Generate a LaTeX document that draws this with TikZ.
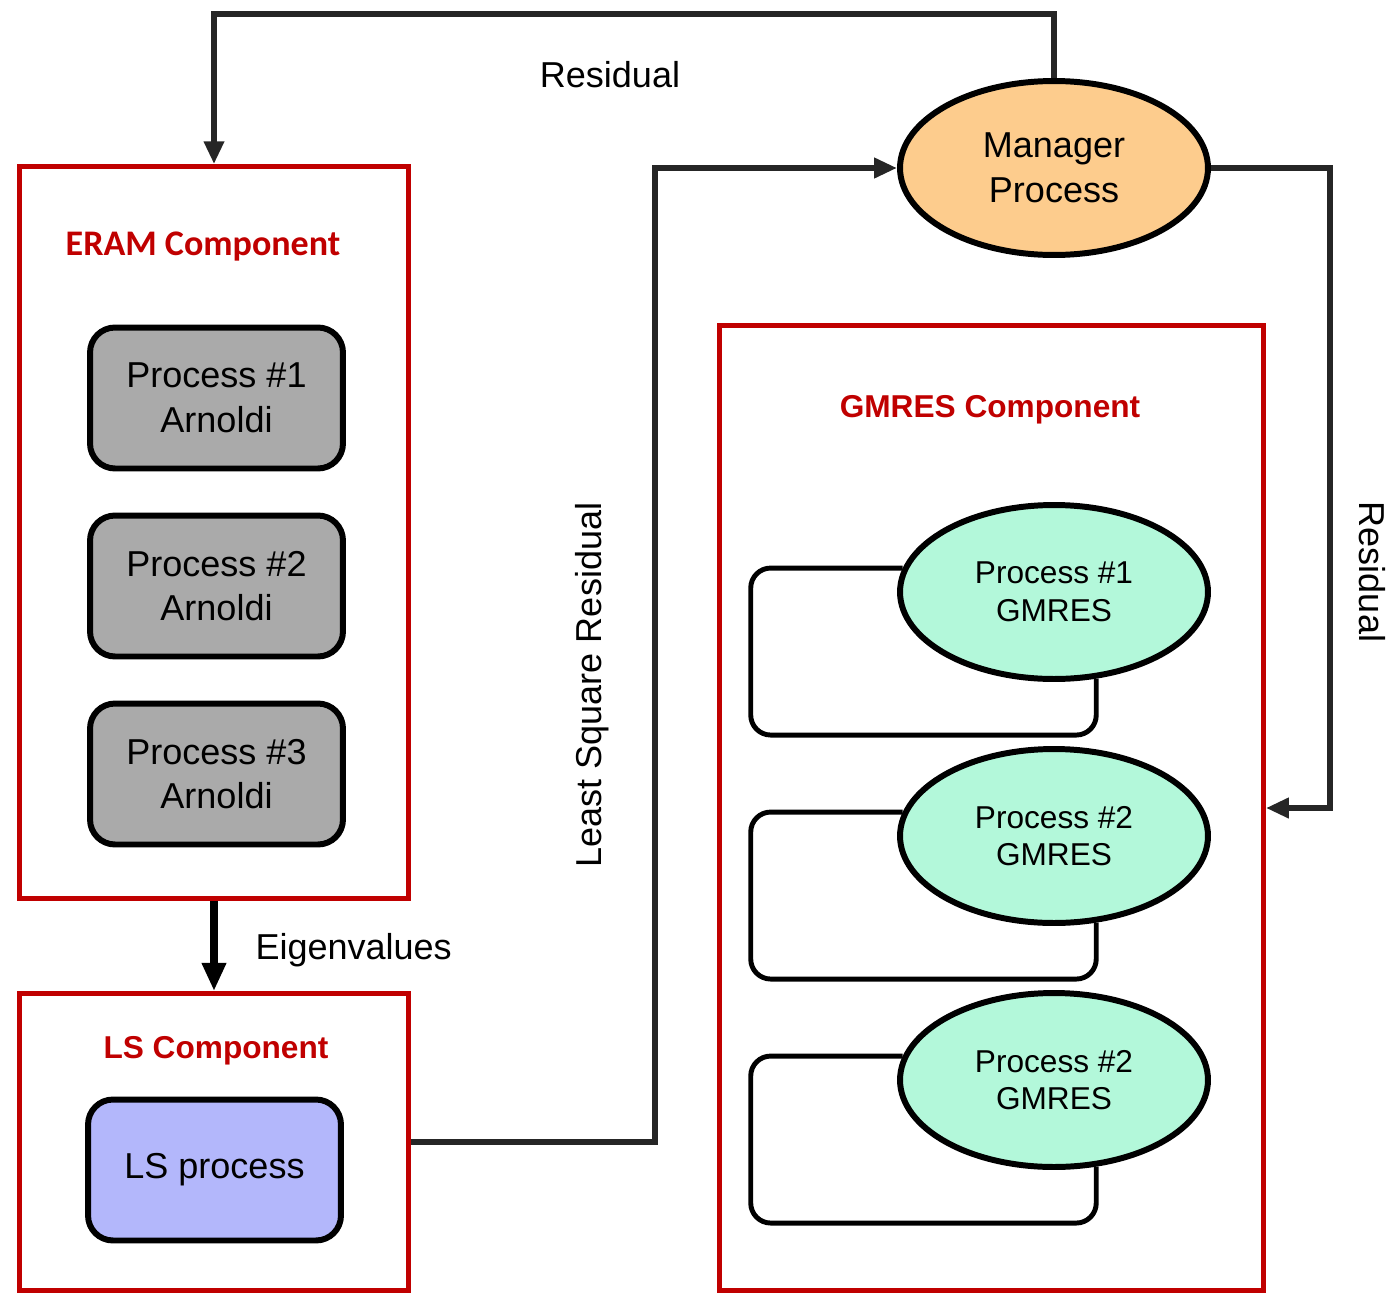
\documentclass[tikz,border=0pt]{standalone}
\usepackage{fontspec}
\setmainfont{Liberation Sans}
\newfontfamily\calfont{Carlito}
\usepackage{tikz}
\usetikzlibrary{shapes.geometric,arrows.meta,positioning}
\definecolor{compred}{HTML}{C00000}
\definecolor{flowgray}{HTML}{262626}
\definecolor{arngray}{HTML}{AAAAAA}
\definecolor{mgrorange}{HTML}{FDCC8D}
\definecolor{gmmint}{HTML}{B3F8DA}
\definecolor{lslav}{HTML}{B3B7FB}

\begin{document}
\begin{tikzpicture}
      [x=0.02cm,y=-0.02cm,
       comp box/.style={rectangle,draw=compred,line width=2.8pt,inner sep=0pt},
       comp title/.style={text=compred,font=\bfseries\fontsize{18}{21}\selectfont,inner sep=0pt},
       proc box/.style={rectangle,rounded corners=0.5cm,draw=black,line width=3.4pt,
         minimum width=5.06cm,minimum height=2.82cm,align=center,
         font=\fontsize{20.5}{25.5}\selectfont},
       proc ell/.style={ellipse,draw=black,line width=3.4pt,inner sep=0pt,
         minimum width=6.16cm,minimum height=3.48cm,align=center},
       flow/.style={draw=flowgray,line width=3.4pt,-{Triangle[length=13pt,width=11pt]}},
       loop line/.style={draw=black,line width=2.8pt,rounded corners=0.4cm},
       lbl/.style={font=\fontsize{20.5}{25}\selectfont,inner sep=0pt}]
        \useasboundingbox (0,0) rectangle (1400,1312);

        \node[comp box,minimum width=7.78cm,minimum height=14.64cm] (eram) at (214,532.5) {};
        \node[comp title,font=\calfont\bfseries\fontsize{20.5}{24}\selectfont] (eramlbl) at (203,247) {ERAM Component};
        \node[proc box,fill=arngray] (a1) at (216.5,398) {Process \#1\\Arnoldi};
        \node[proc box,fill=arngray] (a2) at (216.5,586) {Process \#2\\Arnoldi};
        \node[proc box,fill=arngray] (a3) at (216.5,774) {Process \#3\\Arnoldi};

        \node[comp box,minimum width=7.78cm,minimum height=5.94cm] (ls) at (214,1142) {};
        \node[comp title] (lslbl) at (216,1051) {LS Component};
        \node[proc box,fill=lslav] (lsp) at (214.5,1170) {LS process};

        \node[proc ell,fill=mgrorange,font=\fontsize{20.5}{25.5}\selectfont] (mgr) at (1054,168) {Manager\\Process};

        \node[comp box,minimum width=10.88cm,minimum height=19.3cm] (gm) at (991.5,808) {};
        \node[comp title] (gmlbl) at (990,410) {GMRES Component};
        \node[proc ell,fill=gmmint,font=\fontsize{18}{21.5}\selectfont] (g1) at (1054,592) {Process \#1\\GMRES};
        \node[proc ell,fill=gmmint,font=\fontsize{18}{21.5}\selectfont] (g2) at (1054,836) {Process \#2\\GMRES};
        \node[proc ell,fill=gmmint,font=\fontsize{18}{21.5}\selectfont] (g3) at (1054,1080) {Process \#2\\GMRES};

        \foreach \g in {g1,g2,g3}
          \draw[loop line] (\g.171) -- ++(-152,0) -- ++(0,167) -| (\g.-64);

        \draw[flow] (mgr.north) -- ++(0,-64) -| (eram.north);
        \draw[flow] (ls.east) -- ++(244,0) |- (mgr.west);
        \draw[flow] (mgr.east) -- ++(119,0) |- (gm.east);
        \draw[draw=black,line width=4pt,-{Triangle[length=16pt,width=13pt]}] (eram.south) -- (ls.north)
          node[midway,right=0.76cm,lbl,yshift=-0.08cm] (eig) {Eigenvalues};

        \node[lbl] (restop) at (610,75) {Residual};
        \node[lbl,rotate=90] (lsres) at (592,685) {Least Square Residual};
        \node[lbl,rotate=-90] (resright) at (1372,572) {Residual};
      \end{tikzpicture}
\end{document}
